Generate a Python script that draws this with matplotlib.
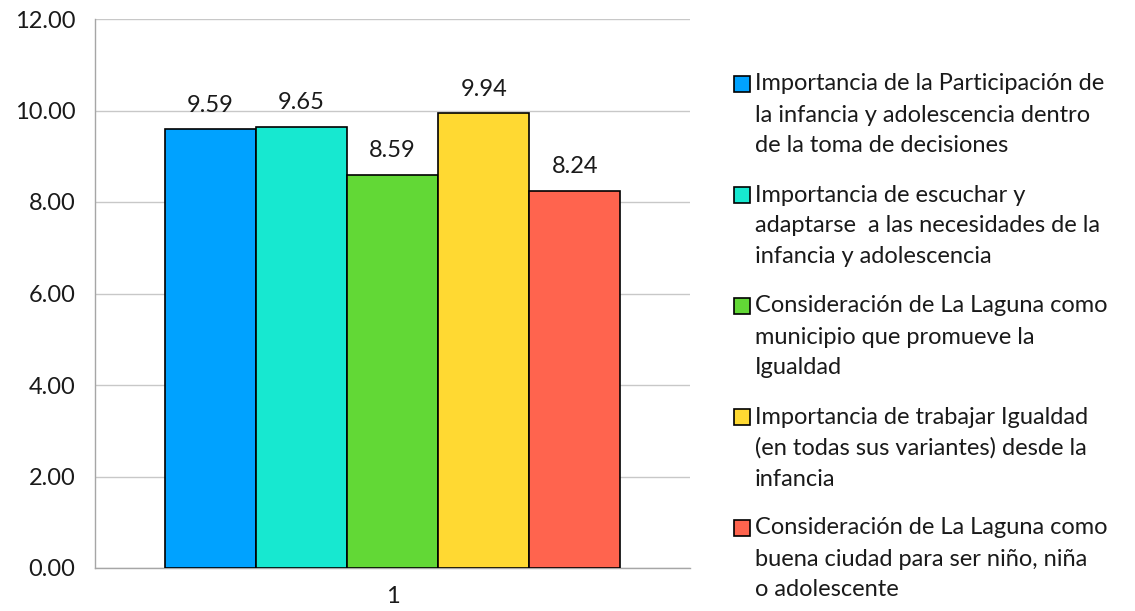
import matplotlib.pyplot as plt
from matplotlib.patches import Rectangle

plt.rcParams['font.family'] = ['Lato', 'DejaVu Sans']

categories = ['1']
series = [
    'Importancia de la Participación de\nla infancia y adolescencia dentro\nde la toma de decisiones',
    'Importancia de escuchar y\nadaptarse  a las necesidades de la\ninfancia y adolescencia',
    'Consideración de La Laguna como\nmunicipio que promueve la\nIgualdad',
    'Importancia de trabajar Igualdad\n(en todas sus variantes) desde la\ninfancia',
    'Consideración de La Laguna como\nbuena ciudad para ser niño, niña\no adolescente',
]
values = [9.59, 9.65, 8.59, 9.94, 8.24]
colors = ['#00A2FF', '#17E8D0', '#62D836', '#FFD932', '#FF644E']
yticks = [0, 2, 4, 6, 8, 10, 12]

W, H = 1135, 611
fig = plt.figure(figsize=(W / 100, H / 100), dpi=100)
ax = fig.add_axes([95 / W, 1 - 568 / H, (690 - 95) / W, (568 - 19) / H])

fs = 17
bw = 0.766 / len(values)
n = len(values)
for i, (v, c) in enumerate(zip(values, colors)):
    x = (i - (n - 1) / 2) * bw
    ax.bar(x, v, width=bw, color=c, edgecolor='black', linewidth=1.2, zorder=3)
    ax.text(x, v + 0.3, '%.2f' % v, ha='center', va='bottom', fontsize=fs, color='#1a1a1a')

ax.set_xlim(-0.5, 0.5)
ax.set_ylim(0, 12)
ax.set_xticks([0])
ax.set_xticklabels(categories)
ax.set_yticks(yticks)
ax.set_yticklabels(['%.2f' % t for t in yticks])
ax.tick_params(axis='both', length=0, labelsize=fs, colors='#1a1a1a')
ax.tick_params(axis='y', pad=14)
ax.tick_params(axis='x', pad=13)
ax.grid(axis='y', color='#c8c8c8', linewidth=1.0, zorder=0)
for s in ['top', 'right']:
    ax.spines[s].set_visible(False)
ax.spines['left'].set_color('#a6a6a6')
ax.spines['bottom'].set_color('#a6a6a6')
ax.spines['left'].set_linewidth(1.0)
ax.spines['bottom'].set_linewidth(1.0)

# legend drawn by hand so the square sits on the first line
for i, (lab, c) in enumerate(zip(series, colors)):
    y0 = 84 + i * 111
    fig.patches.append(Rectangle((734 / W, 1 - (y0 + 8) / H), 16 / W, 16 / H,
                                 transform=fig.transFigure, facecolor=c,
                                 edgecolor='black', linewidth=1.2))
    for j, line in enumerate(lab.split('\n')):
        fig.text(755 / W, 1 - (y0 + j * 31) / H, line, ha='left', va='center',
                 fontsize=fs, color='#1a1a1a')

fig.savefig('out.png', dpi=100)
